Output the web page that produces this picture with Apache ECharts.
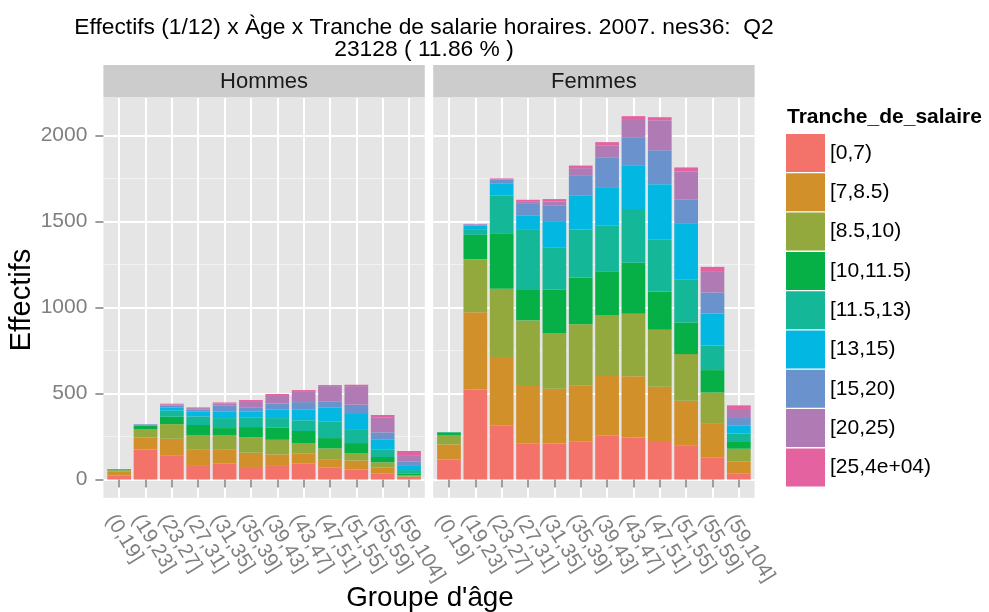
<!DOCTYPE html>
<html><head><meta charset="utf-8">
<script src="https://cdn.jsdelivr.net/npm/echarts@6/dist/echarts.min.js"></script>
<style>html,body{margin:0;padding:0;background:#fff}#c{width:989px;height:612px}</style>
</head><body><div id="c"></div>
<script>
// ---------- data ----------
const ages = ['(0,19]','(19,23]','(23,27]','(27,31]','(31,35]','(35,39]','(39,43]','(43,47]','(47,51]','(51,55]','(55,59]','(59,104]'];
const tranches = ['[0,7)','[7,8.5)','[8.5,10)','[10,11.5)','[11.5,13)','[13,15)','[15,20)','[20,25)','[25,4e+04)'];
const yTicks = [0, 500, 1000, 1500, 2000];
const yMinorTicks = [250, 750, 1250, 1750];

// Hommes, one array per salary bracket (across age groups)
const hommes_0_7    = [24,175,138,84,92,73,84,92,71,59,34,9];
const hommes_7_85   = [24,70,99,89,81,83,62,58,44,52,37,8];
const hommes_85_10  = [6,48,85,86,86,89,85,62,66,41,29,7];
const hommes_10_115 = [5,18,43,58,40,60,70,70,60,60,31,12];
const hommes_115_13 = [2,4,35,50,58,54,56,62,95,81,42,19];
const hommes_13_15  = [0,3,17,27,37,35,51,64,81,88,58,24];
const hommes_15_20  = [0,3,12,14,35,23,33,42,35,54,43,27];
const hommes_20_25  = [0,1,8,7,13,39,50,64,91,108,85,36];
const hommes_25_max = [0,0,4,4,6,6,6,6,6,8,16,24];

// Femmes
const femmes_0_7    = [117,524,313,210,210,220,257,245,218,197,127,34];
const femmes_7_85   = [87,449,399,333,318,325,350,356,321,261,201,72];
const femmes_85_10  = [55,308,397,382,321,358,347,362,331,271,178,73];
const femmes_10_115 = [15,141,323,177,254,272,257,297,223,184,130,39];
const femmes_115_13 = [2,29,221,349,244,278,267,313,300,248,143,50];
const femmes_13_15  = [0,25,69,85,155,196,217,250,324,325,186,47];
const femmes_15_20  = [0,6,20,66,89,116,175,163,197,140,122,48];
const femmes_20_25  = [0,3,4,16,25,45,73,104,174,164,120,41];
const femmes_25_max = [0,1,4,8,14,15,18,22,18,24,29,27];

const hommes = [hommes_0_7,hommes_7_85,hommes_85_10,hommes_10_115,hommes_115_13,hommes_13_15,hommes_15_20,hommes_20_25,hommes_25_max];
const femmes = [femmes_0_7,femmes_7_85,femmes_85_10,femmes_10_115,femmes_115_13,femmes_13_15,femmes_15_20,femmes_20_25,femmes_25_max];

// ---------- style ----------
const colors = ['#F3736A','#D2902B','#93A83D','#07AF47','#14B898','#02B7E2','#6A93CE','#B07AB5','#E3629F'];
const FONT = '"Liberation Sans", Arial, Helvetica, sans-serif';
const GREY = '#7F7F7F';

// y range: ggplot-like 5% expansion of the stacked maximum
let maxTotal = 0;
[hommes, femmes].forEach(g => {
  for (let i = 0; i < ages.length; i++) {
    let s = 0; g.forEach(a => s += a[i]); if (s > maxTotal) maxTotal = s;
  }
});
const yMin = -0.05 * maxTotal, yMax = maxTotal * 1.05;
// discrete x: categories at 1..n, ggplot expansion of 0.6 on each side
const xPositions = ages.map((_, i) => i + 1);
const xMin = 1 - 0.6, xMax = ages.length + 0.6;

// panel geometry
const PT = 98, PH = 399.7;
const outer = [{l:103.4, w:321.4}, {l:433.2, w:321.4}];
const inner = [{l:106.0, w:316.2}, {l:435.8, w:316.2}];

const grids = [
  {left: outer[0].l, top: PT, width: outer[0].w, height: PH, containLabel: false},
  {left: outer[1].l, top: PT, width: outer[1].w, height: PH, containLabel: false},
  {left: inner[0].l, top: PT, width: inner[0].w, height: PH, containLabel: false},
  {left: inner[1].l, top: PT, width: inner[1].w, height: PH, containLabel: false}
];

function gridX(g){
  return {gridIndex:g, type:'value', min:xMin, max:xMax,
    axisLine:{show:false},
    axisTick:{show:false, customValues:xPositions},
    axisLabel:{show:false, customValues:xPositions},
    splitLine:{show:true, lineStyle:{color:'#ffffff', width:2}}};
}
function catX(g){
  return {gridIndex:g, type:'category', data:ages,
    axisLine:{show:false},
    axisTick:{show:true, alignWithLabel:true, length:8, lineStyle:{color:GREY, width:1.5}},
    axisLabel:{interval:0, rotate:-58, margin:13, align:'left', verticalAlign:'top',
      color:GREY, fontSize:20.5, fontFamily:FONT},
    splitLine:{show:false}};
}
function majorY(g, labels){
  return {gridIndex:g, type:'value', min:yMin, max:yMax, position:'left',
    axisLine:{show:false},
    axisTick:{show:labels, length:8, customValues:yTicks, lineStyle:{color:GREY, width:1.5}},
    axisLabel:{show:labels, customValues:yTicks, margin:16, color:GREY, fontSize:21, fontFamily:FONT,
      formatter: v => String(v)},
    splitLine:{show:true, lineStyle:{color:'#ffffff', width:2}}};
}
function minorY(g){
  return {gridIndex:g, type:'value', min:yMin, max:yMax, position:'left',
    axisLine:{show:false},
    axisTick:{show:false, customValues:yMinorTicks},
    axisLabel:{show:false, customValues:yMinorTicks},
    splitLine:{show:true, lineStyle:{color:'#F2F2F2', width:1}}};
}
function hiddenY(g){ return {gridIndex:g, type:'value', min:yMin, max:yMax, show:false, splitLine:{show:false}}; }

const series = [];
[hommes, femmes].forEach((g, s) => {
  g.forEach((vals, t) => {
    series.push({type:'bar', name:tranches[t], xAxisIndex:2+s, yAxisIndex:4+s, stack:'sex'+s,
      data:vals, barWidth:'90%', itemStyle:{color:colors[t]}, emphasis:{disabled:true}});
  });
});

const txt = (text, x, y, size, opts) => Object.assign({type:'text', x:x, y:y, silent:true,
  style:Object.assign({text:text, fill:'#000', fontSize:size, fontFamily:FONT, textAlign:'center', textVerticalAlign:'middle'}, opts && opts.style || {})},
  opts && opts.el || {});

const graphics = [
  // panel backgrounds
  {type:'rect', z:-10, silent:true, shape:{x:outer[0].l, y:PT, width:outer[0].w, height:PH}, style:{fill:'#E5E5E5'}},
  {type:'rect', z:-10, silent:true, shape:{x:outer[1].l, y:PT, width:outer[1].w, height:PH}, style:{fill:'#E5E5E5'}},
  // strips
  {type:'rect', silent:true, shape:{x:outer[0].l, y:65, width:outer[0].w, height:32.5}, style:{fill:'#CCCCCC'}},
  {type:'rect', silent:true, shape:{x:outer[1].l, y:65, width:outer[1].w, height:32.5}, style:{fill:'#CCCCCC'}},
  txt('Hommes', outer[0].l + outer[0].w/2, 82, 22, {style:{fill:'#1A1A1A'}}),
  txt('Femmes', outer[1].l + outer[1].w/2, 82, 22, {style:{fill:'#1A1A1A'}}),
  // title
  txt('Effectifs (1/12) x Àge x Tranche de salarie horaires. 2007. nes36:  Q2', 424, 28, 22.8),
  txt('23128 ( 11.86 % )', 424, 50, 22.8),
  // axis titles
  txt('Effectifs', 22, 300, 29, {el:{rotation:Math.PI/2}}),
  txt("Groupe d'âge", 430, 598, 27.8),
  // legend title
  txt('Tranche_de_salaire', 787, 117, 21, {style:{textAlign:'left', fontWeight:'bold'}})
];

const chart = echarts.init(document.getElementById('c'), null, {renderer:'canvas'});
chart.setOption({
  animation:false,
  backgroundColor:'#ffffff',
  grid:grids,
  xAxis:[gridX(0), gridX(1), catX(2), catX(3)],
  yAxis:[majorY(0,true), minorY(0), majorY(1,false), minorY(1), hiddenY(2), hiddenY(3)],
  legend:{orient:'vertical', left:786, top:134, padding:0, itemWidth:39, itemHeight:38, itemGap:1.3, icon:'rect',
    data:tranches, textStyle:{fontSize:21, color:'#000', fontFamily:FONT}, itemStyle:{borderWidth:0}},
  graphic:graphics,
  series:series
});
</script></body></html>
